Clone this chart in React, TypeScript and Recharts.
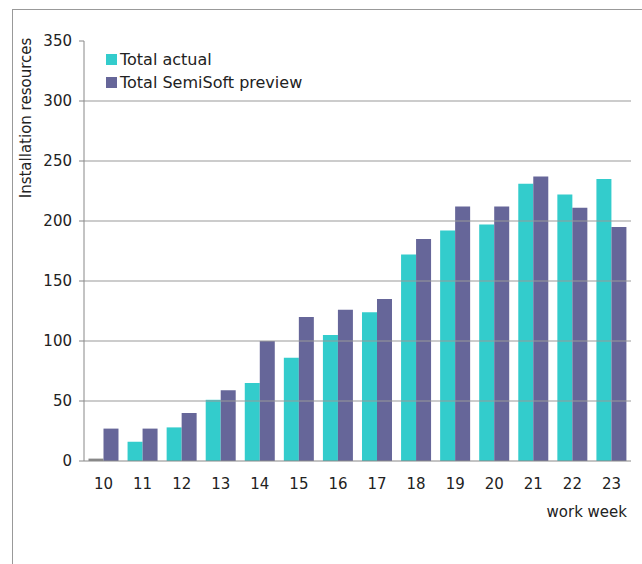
import React from 'react';
import { BarChart, Bar, XAxis, YAxis, ReferenceLine, Legend, Cell } from 'recharts';

const weeks = ['10', '11', '12', '13', '14', '15', '16', '17', '18', '19', '20', '21', '22', '23'];
const totalActual = [2, 16, 28, 51, 65, 86, 105, 124, 172, 192, 197, 231, 222, 235];
const totalPreview = [27, 27, 40, 59, 100, 120, 126, 135, 185, 212, 212, 237, 211, 195];
const seriesNames = ['Total actual', 'Total SemiSoft preview'];
const yTicks = [0, 50, 100, 150, 200, 250, 300, 350];
const gridValues = [50, 100, 150, 200, 250, 300];
const boundaryTicks = [0, 1, 2, 3, 4, 5, 6, 7, 8, 9, 10, 11, 12, 13, 14];

const data = weeks.map((w, i) => ({
  week: w,
  idx: i + 0.5,
  actual: totalActual[i],
  preview: totalPreview[i],
}));

const FONT = '"DejaVu Sans", Verdana, sans-serif';
const TEAL = '#33CCCC';
const PURPLE = '#666699';
const AXIS = '#888888';
const TEXT = '#222222';

const renderLegend = (props: any) => {
  const payload = [...(props.payload || [])].sort(
    (a: any, b: any) => seriesNames.indexOf(a.value) - seriesNames.indexOf(b.value)
  );
  return (
    <div style={{ fontFamily: FONT, fontSize: 16, color: TEXT, textAlign: 'left' }}>
      {payload.map((p: any) => (
        <div key={p.value} style={{ display: 'flex', alignItems: 'center', height: 23 }}>
          <span style={{ display: 'inline-block', width: 11, height: 11, background: p.color, marginRight: 3 }} />
          <span>{p.value}</span>
        </div>
      ))}
    </div>
  );
};

export default function App() {
  return (
    <div style={{ position: 'absolute', left: 0, top: 0, width: 642, height: 564, overflow: 'hidden', background: '#fff' }}>
      <div
        style={{
          position: 'absolute',
          left: 12,
          top: 9,
          width: 700,
          height: 600,
          borderLeft: '1px solid #999',
          borderTop: '1px solid #999',
        }}
      />
      <div style={{ position: 'absolute', left: 0, top: 0 }}>
        <BarChart
          width={642}
          height={564}
          data={data}
          margin={{ top: 41, right: 11, left: 24, bottom: 72 }}
          barCategoryGap="11.5%"
          barGap={0}
        >
          <XAxis
            xAxisId="b-cat"
            dataKey="week"
            height={30}
            axisLine={false}
            tickLine={false}
            tickSize={6}
            tickMargin={10}
            interval={0}
            tick={{ fill: TEXT, fontSize: 15, fontFamily: FONT }}
            label={{
              content: (p: any) => {
                const vb = p.viewBox || {};
                return (
                  <text
                    x={vb.x + vb.width - 4}
                    y={vb.y + 55}
                    textAnchor="end"
                    fill={TEXT}
                    fontSize={15}
                    fontFamily={FONT}
                  >
                    work week
                  </text>
                );
              },
            }}
          />
          <XAxis
            xAxisId="a-grid"
            dataKey="idx"
            type="number"
            domain={[0, 14]}
            ticks={boundaryTicks}
            allowDataOverflow
            height={1}
            tick={false}
            tickSize={5}
            tickLine={{ stroke: AXIS }}
            axisLine={{ stroke: AXIS }}
          />
          <YAxis
            width={60}
            domain={[0, 350]}
            ticks={yTicks}
            interval={0}
            tickSize={5}
            tickMargin={7}
            axisLine={{ stroke: AXIS }}
            tickLine={{ stroke: AXIS }}
            tick={{ fill: TEXT, fontSize: 15, fontFamily: FONT }}
            label={{
              content: (p: any) => {
                const vb = p.viewBox || {};
                const cx = vb.x + 2;
                const cy = vb.y + 77;
                return (
                  <text
                    transform={`translate(${cx},${cy}) rotate(-90)`}
                    textAnchor="middle"
                    dominantBaseline="central"
                    fill={TEXT}
                    fontSize={15}
                    fontFamily={FONT}
                  >
                    Installation resources
                  </text>
                );
              },
            }}
          />
          {gridValues.map((v) => (
            <ReferenceLine key={v} y={v} xAxisId="b-cat" stroke="#999999" strokeWidth={1} ifOverflow="extendDomain" />
          ))}
          <Legend
            layout="horizontal"
            verticalAlign="middle"
            align="center"
            content={renderLegend}
            wrapperStyle={{ left: 106, top: 48, width: 260 }}
          />
          <Bar xAxisId="b-cat" dataKey="actual" name="Total actual" fill={TEAL} isAnimationActive={false}>
            {data.map((d, i) => (
              <Cell key={i} fill={i === 0 ? '#888888' : TEAL} />
            ))}
          </Bar>
          <Bar xAxisId="b-cat" dataKey="preview" name="Total SemiSoft preview" fill={PURPLE} isAnimationActive={false} />
        </BarChart>
      </div>
    </div>
  );
}
